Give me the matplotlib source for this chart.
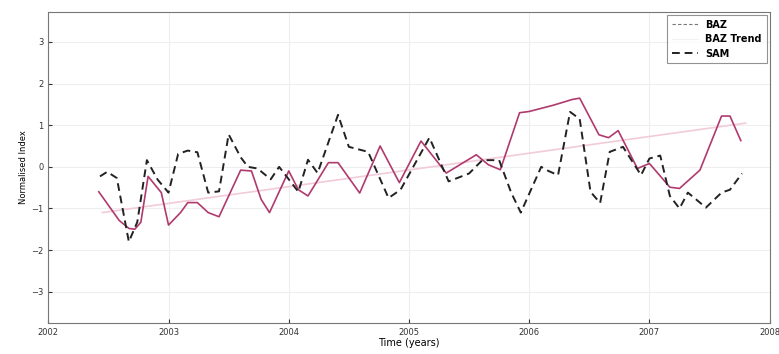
import matplotlib.pyplot as plt
from matplotlib.lines import Line2D

baz_years = [2002.42, 2002.59, 2002.67, 2002.72, 2002.77, 2002.83, 2002.94, 2003.0,
             2003.1, 2003.16, 2003.24, 2003.33, 2003.42, 2003.6, 2003.69, 2003.77,
             2003.84, 2004.0, 2004.08, 2004.16, 2004.33, 2004.41, 2004.59, 2004.76,
             2004.92, 2005.1, 2005.31, 2005.56, 2005.66, 2005.76, 2005.92, 2006.0,
             2006.2, 2006.36, 2006.42, 2006.58, 2006.66, 2006.74, 2006.9, 2007.0,
             2007.17, 2007.25, 2007.42, 2007.6, 2007.67, 2007.76]
baz_values = [-0.6, -1.29, -1.48, -1.5, -1.33, -0.23, -0.62, -1.4,
              -1.1, -0.86, -0.86, -1.1, -1.2, -0.08, -0.1, -0.78,
              -1.1, -0.1, -0.55, -0.7, 0.1, 0.1, -0.63, 0.5,
              -0.38, 0.62, -0.15, 0.29, 0.05, -0.07, 1.3, 1.33,
              1.48, 1.62, 1.65, 0.77, 0.7, 0.87, -0.04, 0.08,
              -0.49, -0.52, -0.08, 1.22, 1.22, 0.63]

trend_years = [2002.45, 2007.8]
trend_values = [-1.1, 1.05]

sam_years = [2002.43, 2002.49, 2002.57, 2002.67, 2002.74, 2002.82, 2002.91, 2003.0,
             2003.08, 2003.16, 2003.24, 2003.33, 2003.42, 2003.5, 2003.6, 2003.66,
             2003.74, 2003.85, 2003.92, 2004.08, 2004.16, 2004.24, 2004.41,
             2004.5, 2004.66, 2004.83, 2004.93, 2005.17, 2005.33, 2005.5, 2005.61,
             2005.75, 2005.85, 2005.93, 2006.1, 2006.16, 2006.24, 2006.34, 2006.42,
             2006.51, 2006.59, 2006.67, 2006.78, 2006.93, 2007.0, 2007.09, 2007.17,
             2007.25, 2007.32, 2007.47, 2007.6, 2007.67, 2007.77]
sam_values = [-0.23, -0.12, -0.27, -1.8, -1.33, 0.16, -0.31, -0.62,
              0.31, 0.39, 0.35, -0.62, -0.59, 0.78, 0.23, 0.0,
              -0.04, -0.3, 0.0, -0.6, 0.17, -0.15, 1.25,
              0.48, 0.36, -0.75, -0.55, 0.7, -0.35, -0.16, 0.16,
              0.16, -0.62, -1.1, 0.0, -0.1, -0.2, 1.32, 1.15,
              -0.6, -0.87, 0.36, 0.48, -0.2, 0.2, 0.27, -0.7,
              -1.0, -0.62, -0.98, -0.62, -0.55, -0.16]

x_ticks = [2002, 2003, 2004, 2005, 2006, 2007, 2008]
y_ticks = [-3, -2, -1, 0, 1, 2, 3]

fig = plt.figure(figsize=(7.79, 3.54), dpi=100)
ax = fig.add_axes([0.062, 0.088, 0.926, 0.878])

ax.plot(trend_years, trend_values, color="#f2cbd9", linewidth=1.2)
ax.plot(baz_years, baz_values, color="#b03a6e", linewidth=1.2)
ax.plot(sam_years, sam_values, color="#222222", linewidth=1.4, linestyle=(0, (4, 2.5)))

ax.set_xlim(2002, 2008)
ax.set_ylim(-3.75, 3.72)
ax.set_xticks(x_ticks)
ax.set_yticks(y_ticks)
ax.tick_params(direction="in", labelsize=6, colors="#333333", length=3)
ax.grid(True, color="#eeeeee", linewidth=0.8)
for side in ax.spines.values():
    side.set_color("#777777")

ax.set_xlabel("Time (years)", fontsize=7, labelpad=1)
ax.set_ylabel("Normalised Index", fontsize=6, labelpad=2)

handles = [
    Line2D([], [], color="#777777", linewidth=0.8, linestyle=(0, (3, 2))),
    Line2D([], [], color="#f2f2f2", linewidth=0.8),
    Line2D([], [], color="#222222", linewidth=1.4, linestyle=(0, (4, 2.5))),
]
leg = ax.legend(handles, ["BAZ", "BAZ Trend", "SAM"], loc="upper right", fontsize=7,
                fancybox=False, edgecolor="#777777", handlelength=2.6,
                labelspacing=0.45, borderpad=0.5, borderaxespad=0.3,
                prop={"size": 7, "weight": "semibold"})
leg.get_frame().set_linewidth(0.8)

fig.savefig("out.png", dpi=100)
